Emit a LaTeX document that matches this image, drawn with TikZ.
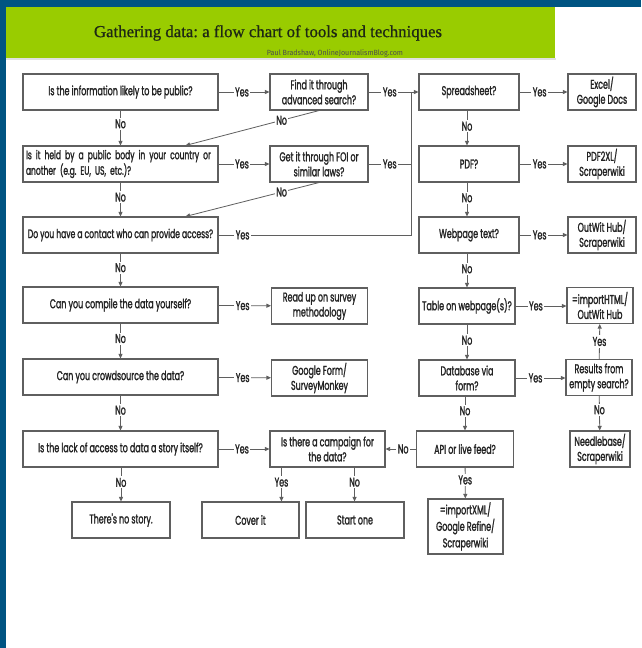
\documentclass[tikz,border=0pt]{standalone}
\usepackage{fontspec}
\usetikzlibrary{arrows.meta,calc}
\newfontfamily\cf[FakeStretch=0.62,FakeBold=1.4]{Poppins}
\newfontfamily\subf[FakeStretch=0.95]{Fira Sans}
\newfontfamily\tf[FakeBold=0.8]{Liberation Serif}
\definecolor{bordblue}{RGB}{0,84,130}
\definecolor{hdrgreen}{RGB}{153,204,0}
\definecolor{boxline}{RGB}{95,95,95}
\definecolor{ink}{RGB}{35,35,35}
\definecolor{titlecol}{RGB}{30,40,20}
\begin{document}
\frenchspacing
\begin{tikzpicture}[x=1pt,y=-1pt,
  box/.style={draw=boxline, line width=1.1pt, fill=white, inner sep=1pt, minimum height=36pt, align=center, font=\cf\fontsize{12.8}{15}\selectfont, text=ink},
  conn/.style={draw=boxline, line width=0.8pt},
  arr/.style={conn, -{Triangle[length=4.5pt,width=4pt]}},
  lbl/.style={fill=white, inner sep=1.5pt, font=\cf\fontsize{12.8}{15}\selectfont, text=ink}
]
\useasboundingbox (0,0) rectangle (641,648);
\fill[white] (0,0) rectangle (641,648);
\fill[bordblue] (0,0) rectangle (641,7);
\fill[bordblue] (0,0) rectangle (6,648);
\fill[black!12] (6,58) rectangle (556,60);
\fill[hdrgreen] (6,7) rectangle (555,58);
\node[font=\tf\fontsize{16.8}{19}\selectfont, text=titlecol] (title) at (268,33) {Gathering data: a flow chart of tools and techniques};
\node[font=\subf\fontsize{7.5}{9}\selectfont, text=black!70] (sub) at (335,53) {Paul Bradshaw, OnlineJournalismBlog.com};

% column 1
\node[box, minimum width=195pt] (q1) at (120.5,92) {Is the information likely to be public?};
\node[box, minimum width=195pt, text width=189pt, align=left, font=\cf\fontsize{12.2}{14}\selectfont] (q2) at (120.5,164) {Is it held by a public body in your country or\\another (e.g. EU, US, etc.)?};
\node[box, minimum width=195pt, font=\cf\fontsize{12.3}{15}\selectfont] (q3) at (120.5,235) {Do you have a contact who can provide access?};
\node[box, minimum width=195pt] (q4) at (120.5,305) {Can you compile the data yourself?};
\node[box, minimum width=195pt] (q5) at (120.5,377) {Can you crowdsource the data?};
\node[box, minimum width=195pt] (q6) at (120.5,449) {Is the lack of access to data a story itself?};
\node[box, minimum width=98pt] (nostory) at (121,520) {There's no story.};

% column 2
\node[box, minimum width=98pt] (find) at (319,92) {Find it through\\advanced search?};
\node[box, minimum width=98pt] (foi) at (319,164) {Get it through FOI or\\similar laws?};
\node[box, minimum width=96pt] (readup) at (319.5,306) {Read up on survey\\methodology};
\node[box, minimum width=96pt] (gform) at (319.5,378) {Google Form/\\SurveyMonkey};
\node[box, minimum width=115pt] (camp) at (327.5,449) {Is there a campaign for\\the data?};
\node[box, minimum width=97pt] (cover) at (250.5,520) {Cover it};
\node[box, minimum width=98pt] (start) at (355,520) {Start one};

% column 3
\node[box, minimum width=100pt] (sheet) at (469,92) {Spreadsheet?};
\node[box, minimum width=100pt] (pdf) at (469,164) {PDF?};
\node[box, minimum width=100pt] (web) at (469,235) {Webpage text?};
\node[box, minimum width=96pt] (table) at (467,306) {Table on webpage(s)?};
\node[box, minimum width=96pt] (db) at (467,378) {Database via\\form?};
\node[box, minimum width=97pt] (api) at (465,449) {API or live feed?};
\node[box, minimum width=75pt, minimum height=55pt, font=\cf\fontsize{12.8}{16.5}\selectfont] (xml) at (465.5,526.5) {=importXML/\\Google Refine/\\Scraperwiki};

% column 4
\node[box, minimum width=68pt] (excel) at (602,92) {Excel/\\Google Docs};
\node[box, minimum width=68pt] (pdfxl) at (602,164) {PDF2XL/\\Scraperwiki};
\node[box, minimum width=68pt] (outwit) at (602,235) {OutWit Hub/\\Scraperwiki};
\node[box, minimum width=66pt] (html) at (600,305.5) {=importHTML/\\OutWit Hub};
\node[box, minimum width=66pt] (res) at (599,377.5) {Results from\\empty search?};
\node[box, minimum width=60pt] (needle) at (600,449) {Needlebase/\\Scraperwiki};

\coordinate (bus) at (411,92);

% column 1 vertical
\draw[arr] (q1) -- node[lbl,pos=.38]{No} (q2);
\draw[arr] (q2) -- node[lbl,pos=.43]{No} (q3);
\draw[arr] (q3) -- node[lbl,pos=.43]{No} (q4);
\draw[arr] (q4) -- node[lbl,pos=.43]{No} (q5);
\draw[arr] (q5) -- node[lbl,pos=.42]{No} (q6);
\draw[arr] (q6.south -| nostory.north) -- node[lbl,pos=.44]{No} (nostory.north);

% col1 -> col2
\draw[arr] (q1) -- node[lbl,pos=.46]{Yes} (find);
\draw[arr] (q2) -- node[lbl,pos=.46]{Yes} (foi);
\draw[arr] (q4) -- node[lbl,pos=.46]{Yes} (readup);
\draw[arr] (q5) -- node[lbl,pos=.46]{Yes} (gform);
\draw[arr] (q6) -- node[lbl,pos=.46]{Yes} (camp);

% diagonal No
\draw[arr] (find.south) -- node[lbl,pos=.28]{No} ([xshift=-33pt]q2.north east);
\draw[arr] (foi.south) -- node[lbl,pos=.28]{No} ([xshift=-33pt]q3.north east);

% bus to spreadsheet
\draw[arr] (q3.east) -- node[lbl,pos=.125]{Yes} (q3.east -| bus) -- (bus) -- (sheet.west);
\draw[conn] (find.east) -- node[lbl,pos=.5]{Yes} (bus);
\draw[conn] (foi.east) -- node[lbl,pos=.5]{Yes} (foi.east -| bus);

% column 3 vertical
\draw[arr] (sheet.south -| 467,0) -- node[lbl,pos=.45]{No} (pdf.north -| 467,0);
\draw[arr] (pdf.south -| 467,0) -- node[lbl,pos=.45]{No} (web.north -| 467,0);
\draw[arr] (web.south -| 467,0) -- node[lbl,pos=.45]{No} (table.north);
\draw[arr] (table) -- node[lbl,pos=.45]{No} (db);
\draw[arr] (db.south -| api.north) -- node[lbl,pos=.42]{No} (api.north);
\draw[arr] (api) -- node[lbl,pos=.4]{Yes} (xml);

% col3 -> col4
\draw[arr] (sheet) -- node[lbl,pos=.42]{Yes} (excel);
\draw[arr] (pdf) -- node[lbl,pos=.42]{Yes} (pdfxl);
\draw[arr] (web) -- node[lbl,pos=.42]{Yes} (outwit);
\draw[arr] (table.east) -- node[lbl,pos=.4]{Yes} (table.east -| html.west);
\draw[arr] (db.east) -- node[lbl,pos=.4]{Yes} (db.east -| res.west);
\draw[arr] (res) -- node[lbl,pos=.5]{Yes} (html);
\draw[arr] (res) -- node[lbl,pos=.4]{No} (needle);

% api -> campaign
\draw[arr] (api) -- node[lbl,pos=.42]{No} (camp);

% campaign -> cover / start
\draw[arr] ([xshift=12pt]camp.south west) -- node[lbl,pos=.43]{Yes} ([xshift=12pt]camp.south west |- cover.north);
\draw[arr] ([xshift=-31pt]camp.south east) -- node[lbl,pos=.43]{No} ([xshift=-31pt]camp.south east |- start.north);
\end{tikzpicture}
\end{document}
